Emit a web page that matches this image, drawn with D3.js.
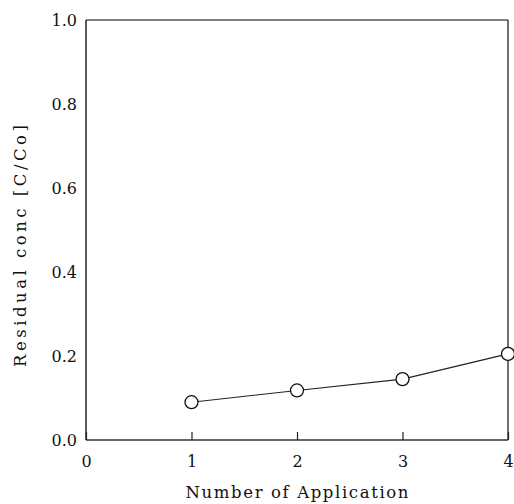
<!DOCTYPE html>
<html>
<head>
<meta charset="utf-8">
<script src="https://cdn.jsdelivr.net/npm/d3@7"></script>
<style>
  html, body { margin: 0; padding: 0; background: #fff; }
  svg { display: block; }
  text { font-family: "DejaVu Serif", "Liberation Serif", serif; fill: #111; }
</style>
</head>
<body>
<svg id="chart" width="514" height="504"></svg>
<script>
// Residual concentration after each application
const applications = [1, 2, 3, 4];
const residual = [0.090, 0.118, 0.145, 0.205];

const xTicks = [0, 1, 2, 3, 4];
const yTicks = [0.0, 0.2, 0.4, 0.6, 0.8, 1.0];

const xTitle = "Number of Application";
const yTitle = "Residual conc [C/Co]";

const svg = d3.select("#chart");
const plot = { left: 86, right: 508, top: 20, bottom: 440 };

const x = d3.scaleLinear().domain([0, 4]).range([plot.left, plot.right]);
const y = d3.scaleLinear().domain([0, 1]).range([plot.bottom, plot.top]);

// Frame: left/bottom solid, top/right slightly lighter
svg.append("line")
  .attr("x1", plot.left).attr("x2", plot.right).attr("y1", plot.top).attr("y2", plot.top)
  .attr("stroke", "#555").attr("stroke-width", 1.3);
svg.append("line")
  .attr("x1", plot.right).attr("x2", plot.right).attr("y1", plot.top).attr("y2", plot.bottom)
  .attr("stroke", "#333").attr("stroke-width", 1.4);
svg.append("line")
  .attr("x1", plot.left).attr("x2", plot.left).attr("y1", plot.top).attr("y2", plot.bottom)
  .attr("stroke", "#222").attr("stroke-width", 1.5);
svg.append("line")
  .attr("x1", plot.left).attr("x2", plot.right).attr("y1", plot.bottom).attr("y2", plot.bottom)
  .attr("stroke", "#333").attr("stroke-width", 1.3);

// Bottom axis: inward ticks
const xAxis = d3.axisBottom(x).tickValues(xTicks).tickSize(-8).tickPadding(16)
  .tickFormat(d3.format("d"));
const gx = svg.append("g").attr("transform", `translate(0,${plot.bottom})`).call(xAxis);
gx.select(".domain").remove();
gx.selectAll(".tick line").attr("stroke", "#222").attr("stroke-width", 1.2);
gx.selectAll(".tick text").attr("font-size", 16).attr("fill", "#111")
  .attr("font-family", "DejaVu Serif, Liberation Serif, serif");

// Left axis: labels only
const yAxis = d3.axisLeft(y).tickValues(yTicks).tickSize(0).tickPadding(9)
  .tickFormat(d3.format(".1f"));
const gy = svg.append("g").attr("transform", `translate(${plot.left},0)`).call(yAxis);
gy.select(".domain").remove();
gy.selectAll(".tick line").remove();
gy.selectAll(".tick text").attr("font-size", 16).attr("fill", "#111")
  .attr("font-family", "DejaVu Serif, Liberation Serif, serif");

// Axis titles
svg.append("text")
  .attr("x", (plot.left + plot.right) / 2).attr("y", 498)
  .attr("text-anchor", "middle").attr("font-size", 16.5)
  .attr("textLength", 223).attr("lengthAdjust", "spacing")
  .text(xTitle);

svg.append("text")
  .attr("transform", "translate(26,246) rotate(-90)")
  .attr("text-anchor", "middle").attr("font-size", 16.5)
  .attr("textLength", 242).attr("lengthAdjust", "spacing")
  .text(yTitle);

// Data line and open markers
const pts = applications.map((a, i) => [a, residual[i]]);
svg.append("path")
  .datum(pts)
  .attr("fill", "none").attr("stroke", "#222").attr("stroke-width", 1.1)
  .attr("d", d3.line().x(d => x(d[0])).y(d => y(d[1])));

svg.selectAll("circle.pt")
  .data(pts)
  .join("circle")
  .attr("class", "pt")
  .attr("cx", d => x(d[0])).attr("cy", d => y(d[1]))
  .attr("r", 6.5)
  .attr("fill", "#fff").attr("stroke", "#111").attr("stroke-width", 1.3);
</script>
</body>
</html>
